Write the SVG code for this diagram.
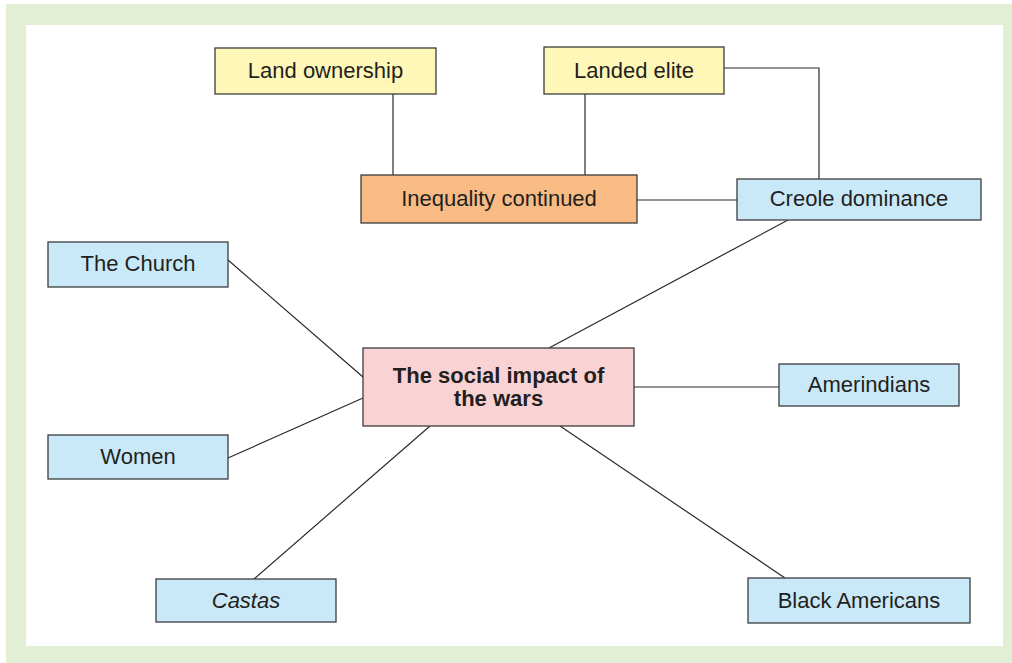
<svg xmlns="http://www.w3.org/2000/svg" width="1012" height="663" viewBox="0 0 1012 663">
  <style>
    .box { stroke: #3c3c3c; stroke-width: 1.3; }
    .yellow { fill: #fef7b8; }
    .orange { fill: #f8bb84; }
    .pink { fill: #f9d3d3; }
    .blue { fill: #c9e9f8; }
    .lbl { font-family: "Liberation Sans", Arial, sans-serif; font-size: 22px; fill: #231f20; text-anchor: middle; }
    .bold { font-weight: bold; }
    .conn { stroke: #2a2a2a; stroke-width: 1.2; fill: none; }
  </style>
  <!-- frame -->
  <rect x="6" y="4" width="1006" height="659" fill="#e3efd4"/>
  <rect x="26" y="25" width="977" height="621" fill="#ffffff"/>

  <g id="connectors">
    <polyline class="conn" points="393,94 393,175"/>
    <polyline class="conn" points="585,94 585,175"/>
    <polyline class="conn" points="724,68 819,68 819,179"/>
    <line class="conn" x1="637" y1="200" x2="737" y2="200"/>
    <line class="conn" x1="788" y1="220" x2="549" y2="348"/>
    <line class="conn" x1="228" y1="260" x2="363" y2="377"/>
    <line class="conn" x1="228" y1="458" x2="363" y2="398"/>
    <line class="conn" x1="254" y1="579" x2="430" y2="426"/>
    <line class="conn" x1="634" y1="387" x2="779" y2="387"/>
    <line class="conn" x1="560" y1="426" x2="785" y2="578"/>
  </g>

  <g id="land-ownership">
    <rect class="box yellow" x="215" y="48" width="221" height="46"/>
    <text class="lbl" x="325.5" y="78">Land ownership</text>
  </g>
  <g id="landed-elite">
    <rect class="box yellow" x="544" y="47" width="180" height="47"/>
    <text class="lbl" x="634" y="78">Landed elite</text>
  </g>
  <g id="inequality-continued">
    <rect class="box orange" x="361" y="175" width="276" height="48"/>
    <text class="lbl" x="499" y="206">Inequality continued</text>
  </g>
  <g id="creole-dominance">
    <rect class="box blue" x="737" y="179" width="244" height="41"/>
    <text class="lbl" x="859" y="206">Creole dominance</text>
  </g>
  <g id="the-church">
    <rect class="box blue" x="48" y="242" width="180" height="45"/>
    <text class="lbl" x="138" y="271">The Church</text>
  </g>
  <g id="social-impact">
    <rect class="box pink" x="363" y="348" width="271" height="78"/>
    <text class="lbl bold" x="498.5" y="383">The social impact of</text>
    <text class="lbl bold" x="498.5" y="406">the wars</text>
  </g>
  <g id="amerindians">
    <rect class="box blue" x="779" y="364" width="180" height="42"/>
    <text class="lbl" x="869" y="392">Amerindians</text>
  </g>
  <g id="women">
    <rect class="box blue" x="48" y="435" width="180" height="44"/>
    <text class="lbl" x="138" y="464">Women</text>
  </g>
  <g id="castas">
    <rect class="box blue" x="156" y="579" width="180" height="43"/>
    <text class="lbl" x="246" y="608" font-style="italic">Castas</text>
  </g>
  <g id="black-americans">
    <rect class="box blue" x="748" y="578" width="222" height="45"/>
    <text class="lbl" x="859" y="608">Black Americans</text>
  </g>
</svg>
